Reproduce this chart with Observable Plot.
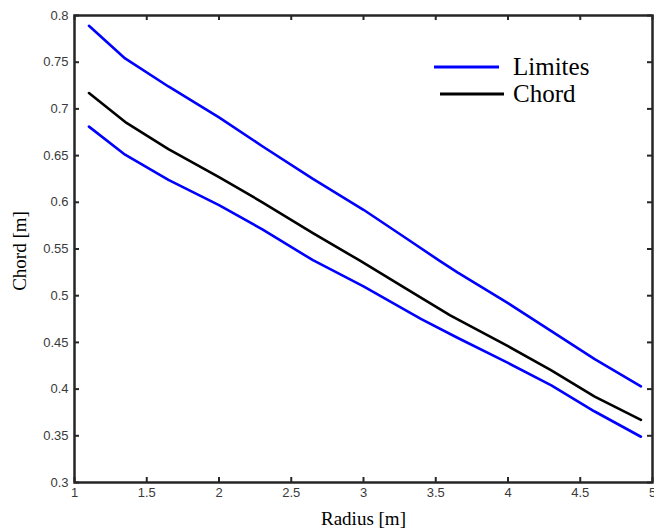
<!DOCTYPE html>
<html><head><meta charset="utf-8">
<script src="https://cdn.jsdelivr.net/npm/d3@7"></script>
<script src="https://cdn.jsdelivr.net/npm/@observablehq/plot@0.6"></script>
<style>
body{margin:0;background:#fff}
#chart{position:relative;width:654px;height:530px}
</style>
</head><body><div id="chart"></div>
<script>
// Data
const upperRadius = [1.1, 1.35, 1.65, 2.0, 2.3, 2.65, 3.0, 3.3, 3.53, 3.65, 4.0, 4.3, 4.6, 4.92];
const upperChord  = [0.789, 0.754, 0.724, 0.691, 0.660, 0.625, 0.592, 0.561, 0.537, 0.525, 0.492, 0.462, 0.432, 0.403];
const chordRadius = [1.1, 1.36, 1.65, 2.0, 2.3, 2.65, 2.97, 3.3, 3.6, 4.0, 4.3, 4.6, 4.92];
const chordValues = [0.717, 0.685, 0.657, 0.627, 0.600, 0.567, 0.538, 0.507, 0.479, 0.446, 0.420, 0.392, 0.367];
const lowerRadius = [1.1, 1.35, 1.65, 2.0, 2.3, 2.65, 3.0, 3.4, 3.65, 4.0, 4.3, 4.6, 4.92];
const lowerChord  = [0.681, 0.651, 0.624, 0.597, 0.571, 0.538, 0.510, 0.475, 0.455, 0.428, 0.404, 0.376, 0.349];
const xTicks = [1, 1.5, 2, 2.5, 3, 3.5, 4, 4.5, 5];
const yTicks = [0.3, 0.35, 0.4, 0.45, 0.5, 0.55, 0.6, 0.65, 0.7, 0.75, 0.8];
const legendNames = ["Limites", "Chord"];
const legendColors = ["#0000ff", "#000000"];

const toRows = (xs, ys) => xs.map((x, i) => ({x, y: ys[i]}));
const upper = toRows(upperRadius, upperChord);
const chord = toRows(chordRadius, chordValues);
const lower = toRows(lowerRadius, lowerChord);

const W = 654, H = 530, ML = 74, MR = 2, MT = 15, MB = 48;
const frameW = W - ML - MR, frameH = H - MT - MB, tickLen = 5;
const axisColor = "#262626";
const tickFont = "Liberation Sans, Arial, sans-serif";
const serif = "Liberation Serif, Times New Roman, serif";
const tickStyle = {stroke: axisColor, strokeWidth: 2};

const plot = Plot.plot({
  width: W,
  height: H,
  marginLeft: ML,
  marginRight: MR,
  marginTop: MT,
  marginBottom: MB,
  style: {background: "#fff", overflow: "visible"},
  x: {domain: [1, 5]},
  y: {domain: [0.3, 0.8]},
  marks: [
    Plot.axisX({ticks: xTicks, tickSize: 0, tickPadding: 5, tickFormat: d => String(d), label: null, fontSize: 13, fontFamily: tickFont, fill: "#3a3a3a"}),
    Plot.axisY({ticks: yTicks, tickSize: 0, tickPadding: 6, tickFormat: d => String(d), label: null, fontSize: 13, fontFamily: tickFont, fill: "#3a3a3a"}),
    // inward ticks on all four sides
    Plot.tickX(xTicks, {x: d => d, insetTop: frameH - tickLen, ...tickStyle}),
    Plot.tickX(xTicks, {x: d => d, insetBottom: frameH - tickLen, ...tickStyle}),
    Plot.tickY(yTicks, {y: d => d, insetRight: frameW - tickLen, ...tickStyle}),
    Plot.tickY(yTicks, {y: d => d, insetLeft: frameW - tickLen, ...tickStyle}),
    Plot.line(upper, {x: "x", y: "y", stroke: legendColors[0], strokeWidth: 2.6}),
    Plot.line(lower, {x: "x", y: "y", stroke: legendColors[0], strokeWidth: 2.6}),
    Plot.line(chord, {x: "x", y: "y", stroke: legendColors[1], strokeWidth: 2.6}),
    Plot.frame({stroke: axisColor, strokeWidth: 2.5}),
    Plot.text(["Radius [m]"], {frameAnchor: "bottom", dy: 36, fontSize: 19, fontFamily: serif, fill: "#000", lineAnchor: "middle", textAnchor: "middle"}),
    Plot.text(["Chord [m]"], {frameAnchor: "left", dx: -55, dy: 2, rotate: -90, fontSize: 19, fontFamily: serif, fill: "#000", lineAnchor: "middle", textAnchor: "middle"})
  ]
});
document.getElementById("chart").appendChild(plot);

// legend (inside the plot, top right)
const svg = d3.select(plot);
const lg = svg.append("g").attr("class", "legend").attr("text-anchor", "start");
const legendRows = [
  {x1: 434, x2: 499, y: 67, tx: 513, ty: 75},
  {x1: 440, x2: 504, y: 94, tx: 513, ty: 102}
];
legendNames.forEach((name, i) => {
  const r = legendRows[i];
  lg.append("line").attr("x1", r.x1).attr("x2", r.x2).attr("y1", r.y).attr("y2", r.y)
    .attr("stroke", legendColors[i]).attr("stroke-width", 3);
  lg.append("text").attr("x", r.tx).attr("y", r.ty).text(name)
    .attr("text-anchor", "start")
    .attr("font-family", serif).attr("font-size", 25).attr("fill", "#000");
});
</script>
</body></html>
